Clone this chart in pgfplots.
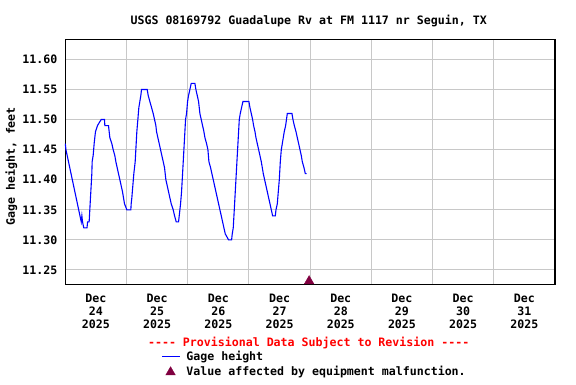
\documentclass[border=0pt]{standalone}
\usepackage{fontspec}
\setmainfont{DejaVu Sans Mono}[Ligatures=TeXOff]
\usepackage{pgfplots}
\pgfplotsset{compat=1.18}
\definecolor{malf}{RGB}{128,0,64}
\definecolor{gridgray}{RGB}{200,200,200}
\definecolor{provred}{RGB}{255,0,0}
\definecolor{gageblue}{RGB}{0,0,255}
\begin{document}
\begin{tikzpicture}[x=1pt,y=1pt,font=\fontsize{11.6}{13}\selectfont\bfseries]
\useasboundingbox (0,0) rectangle (576,384);
\begin{axis}[
  at={(65.3pt,99.7pt)}, anchor=south west,
  width=489.7pt, height=244.8pt, scale only axis,
  xmin=0, xmax=192, ymin=11.2262, ymax=11.633,
  clip=false,
  axis line style={line width=1.5pt, black},
  xtick={12,36,60,84,108,132,156,180},
  xticklabels={{Dec\\24\\2025},{Dec\\25\\2025},{Dec\\26\\2025},{Dec\\27\\2025},{Dec\\28\\2025},{Dec\\29\\2025},{Dec\\30\\2025},{Dec\\31\\2025}},
  xticklabel style={align=center, anchor=north, inner sep=0pt, yshift=-9.2pt},
  minor xtick={24,48,72,96,120,144,168},
  xminorgrids=true, xmajorgrids=false,
  ytick={11.25,11.30,11.35,11.40,11.45,11.50,11.55,11.60},
  ymajorgrids=true,
  grid style={gridgray, line width=1pt},
  minor grid style={gridgray, line width=1pt},
  major tick length=0pt, minor tick length=0pt,
  /pgf/number format/assume math mode=true,
  yticklabel style={/pgf/number format/fixed, /pgf/number format/fixed zerofill, /pgf/number format/precision=2, anchor=east, inner sep=0pt, xshift=-7.8pt},
  ylabel={Gage height, feet},
  ylabel style={at={(axis description cs:-0.1102,0.4816)}, anchor=center},
  title={USGS 08169792 Guadalupe Rv at FM 1117 nr Seguin, TX},
  title style={at={(axis description cs:0.497,1.051)}, anchor=center, inner sep=0pt, yshift=0pt},
  legend style={at={(axis description cs:0.1958,-0.2745)}, anchor=north west, draw=none, fill=none, inner sep=0pt, row sep=4pt, column sep=6pt, nodes={inner sep=0pt, text height=9pt, text depth=2pt}},
  legend cell align=left,
]
\addplot[draw=gageblue, line width=1.1pt, sharp plot, mark=none, line join=miter,
  legend image code/.code={\draw[gageblue, line width=1.3pt] (0pt,0.5pt) -- (17.7pt,0.5pt);}] coordinates {
(0,11.46) (0.25,11.45) (0.75,11.44) (1.25,11.43) (1.75,11.42) (2.25,11.41) (2.75,11.40) (3.25,11.39) (3.75,11.38) (4.25,11.37) (4.75,11.36) (5.25,11.35) (5.75,11.34) (6.25,11.33) (6.5,11.34) (6.75,11.33) (7.25,11.32) (8.5,11.32) (8.75,11.33) (9.35,11.33) (9.61,11.35) (9.87,11.37) (10.14,11.39) (10.4,11.41) (10.53,11.43) (10.92,11.44) (11.31,11.46) (11.57,11.47) (11.84,11.48) (12.62,11.49) (14.06,11.50) (15.37,11.50) (15.5,11.49) (16.94,11.49) (17.46,11.47) (18.24,11.46) (18.77,11.45) (19.42,11.44) (19.82,11.43) (20.34,11.42) (20.86,11.41) (21.39,11.40) (21.91,11.39) (22.43,11.38) (22.82,11.37) (23.22,11.36) (24.13,11.35) (25.70,11.35) (25.83,11.36) (26.09,11.37) (26.48,11.39) (26.87,11.41) (27.40,11.43) (27.79,11.46) (28.05,11.48) (28.45,11.50) (28.84,11.52) (29.23,11.53) (29.62,11.54) (29.88,11.55) (32.11,11.55) (32.50,11.54) (33.15,11.53) (33.81,11.52) (34.46,11.51) (34.99,11.50) (35.51,11.49) (35.77,11.48) (36.29,11.47) (36.82,11.46) (37.34,11.45) (37.86,11.44) (38.39,11.43) (38.91,11.42) (39.43,11.40) (39.96,11.39) (40.48,11.38) (41.00,11.37) (41.53,11.36) (42.31,11.35) (42.84,11.34) (43.49,11.33) (44.41,11.33) (44.67,11.34) (45.19,11.36) (45.58,11.38) (45.98,11.41) (46.37,11.44) (46.76,11.47) (47.15,11.50) (47.54,11.51) (47.94,11.53) (48.33,11.54) (48.85,11.55) (49.37,11.56) (50.81,11.56) (51.20,11.55) (51.73,11.54) (52.25,11.53) (52.77,11.51) (53.30,11.50) (53.82,11.49) (54.34,11.48) (54.74,11.47) (55.39,11.46) (55.91,11.45) (56.31,11.43) (56.96,11.42) (57.48,11.41) (58.01,11.40) (58.53,11.39) (59.05,11.38) (59.58,11.37) (60.10,11.36) (60.62,11.35) (61.15,11.34) (61.67,11.33) (62.19,11.32) (62.72,11.31) (64.02,11.30) (65.20,11.30) (65.46,11.31) (65.85,11.32) (66.25,11.35) (66.64,11.38) (67.03,11.41) (67.42,11.44) (67.82,11.47) (68.21,11.50) (68.60,11.51) (69.12,11.52) (69.65,11.53) (72.00,11.53) (72.39,11.52) (72.92,11.51) (73.44,11.50) (73.83,11.49) (74.36,11.48) (74.75,11.47) (75.27,11.46) (75.80,11.45) (76.32,11.44) (76.84,11.43) (77.24,11.42) (77.63,11.41) (78.15,11.40) (78.68,11.39) (79.20,11.38) (79.72,11.37) (80.25,11.36) (80.77,11.35) (81.29,11.34) (82.34,11.34) (82.60,11.35) (83.12,11.36) (83.51,11.38) (83.90,11.40) (84.30,11.43) (84.69,11.45) (85.08,11.46) (85.47,11.47) (85.86,11.48) (86.39,11.49) (87.04,11.51) (88.87,11.51) (89.26,11.50) (89.79,11.49) (90.44,11.48) (90.96,11.47) (91.49,11.46) (92.01,11.45) (92.53,11.44) (92.92,11.43) (93.58,11.42) (94.11,11.41) (94.63,11.41)
};
\addlegendentry{Gage height}
\addplot[only marks, mark=triangle*, mark size=5.5pt, mark options={fill=malf, draw=malf}, malf] coordinates {(95.6,11.2315)};
\addlegendentry{Value affected by equipment malfunction.}
\node[text=provred, anchor=center, inner sep=0pt] at (rel axis cs:0.497,-0.2398) {---- Provisional Data Subject to Revision ----};
\end{axis}
\end{tikzpicture}
\end{document}
